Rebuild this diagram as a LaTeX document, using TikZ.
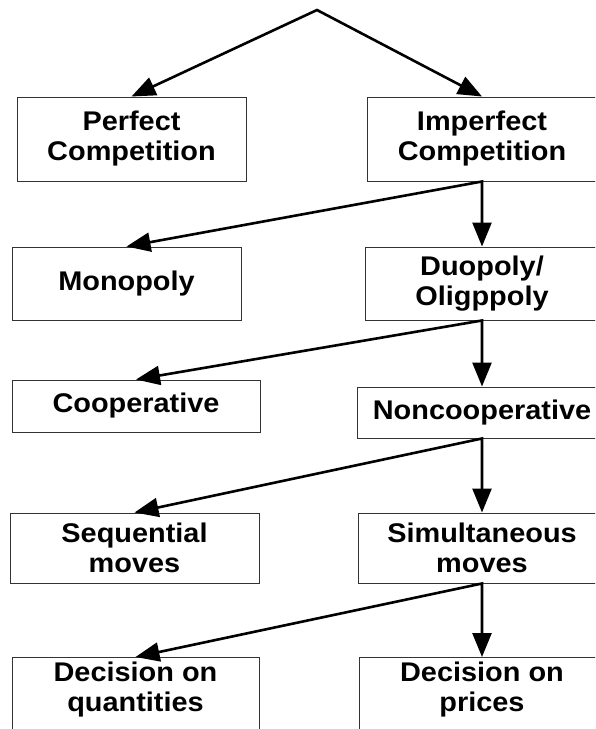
\documentclass[tikz,border=0pt]{standalone}
\usepackage{fontspec}
\newfontfamily\boxfont{Liberation Sans}[FakeStretch=1.07]
\usetikzlibrary{arrows.meta}
\begin{document}
\begin{tikzpicture}[x=1pt, y=-1pt,
  txt/.style={inner sep=0pt, align=center,
    font={\boxfont\bfseries\fontsize{27}{30}\selectfont}},
  box/.style={txt, draw=black!80, line width=1pt, rectangle},
  link/.style={line width=2.6pt, line join=miter,
    {Triangle[length=24pt,width=19pt]}-{Triangle[length=24pt,width=19pt]}}]
  \useasboundingbox (0,0) rectangle (595,729);
  \clip (0,0) rectangle (595,729);

  % root of the tree
  \coordinate (apex) at (317,10);

  % level 1
  \node[box, minimum width=229pt, minimum height=84pt] (perf)   at (131.5,139) {Perfect\\Competition};
  \node[box, minimum width=230pt, minimum height=84pt] (imperf) at (482,139)   {Imperfect\\Competition};

  % level 2
  \node[box, minimum width=229pt, minimum height=73pt] (mono) at (126.5,283.5) {Monopoly};
  \node[box, minimum width=234pt, minimum height=73pt] (duo)  at (482,283.5)   {Duopoly/\\Oligppoly};

  % level 3
  \node[box, minimum width=248pt, minimum height=52pt] (coop)    at (136,406)   {Cooperative};
  \node[box, minimum width=250pt, minimum height=51pt] (noncoop) at (482,412.5) {Noncooperative};

  % level 4
  \node[box, minimum width=249pt, minimum height=70pt] (seq)   at (134.5,548) {Sequential\\moves};
  \node[box, minimum width=248pt, minimum height=70pt] (simul) at (482,548)   {Simultaneous\\moves};

  % level 5 (boxes run past the lower edge)
  \node[box, minimum width=247pt, minimum height=100pt, anchor=north] (quant)  at (135.5,657) {};
  \node[box, minimum width=246pt, minimum height=100pt, anchor=north] (prices) at (482,657)   {};
  \node[txt] (quanttext)  at (135.5,690) {Decision on\\quantities};
  \node[txt] (pricestext) at (482,690)   {Decision on\\prices};

  % branches
  \draw[link] (perf.north)  -- (apex)          -- (imperf.north);
  \draw[link] (mono.north)  -- (imperf.south)  -- (duo.north);
  \draw[link] (coop.north)  -- (duo.south)     -- (noncoop.north);
  \draw[link] (seq.north)   -- (noncoop.south) -- (simul.north);
  \draw[link] (quant.north) -- (simul.south)   -- (prices.north);
\end{tikzpicture}
\end{document}
